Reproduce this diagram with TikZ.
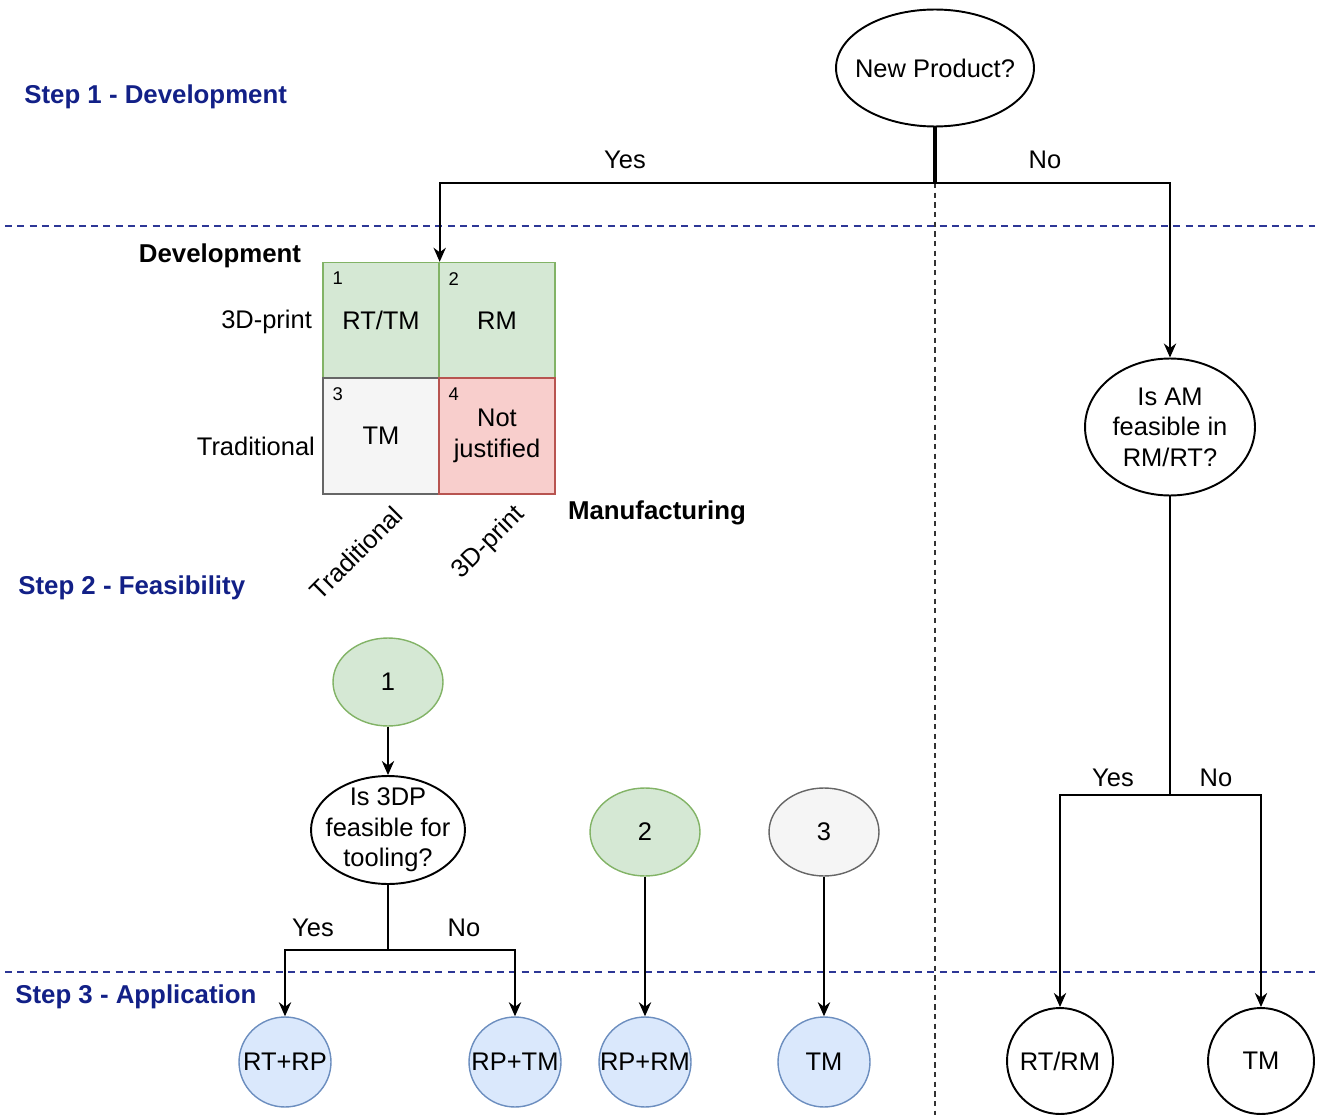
\documentclass[tikz,border=0pt]{standalone}
\usepackage{fontspec}
\setmainfont{Liberation Sans}
\usetikzlibrary{arrows.meta,positioning,calc,shapes.geometric}
\definecolor{stepblue}{RGB}{18,32,135}
\definecolor{bandblue}{RGB}{45,55,150}
\definecolor{greenfill}{HTML}{D5E8D4}
\definecolor{greenline}{HTML}{82B366}
\definecolor{greyfill}{HTML}{F5F5F5}
\definecolor{greyline}{HTML}{666666}
\definecolor{redfill}{HTML}{F8CECC}
\definecolor{redline}{HTML}{B85450}
\definecolor{bluefill}{HTML}{DAE8FC}
\definecolor{blueline}{HTML}{6C8EBF}
\tikzset{
  base/.style    ={font=\fontsize{14.5}{17.3}\selectfont},
  dec/.style     ={ellipse,draw,line width=1.1pt,align=center,inner sep=-10pt},
  green/.style   ={ellipse,draw=greenline,fill=greenfill,line width=0.8pt,inner sep=-10pt,
                   minimum width=2.2cm,minimum height=1.76cm},
  grey/.style    ={ellipse,draw=greyline,fill=greyfill,line width=0.8pt,inner sep=-10pt,
                   minimum width=2.2cm,minimum height=1.76cm},
  result/.style  ={ellipse,draw=blueline,fill=bluefill,line width=0.8pt,inner sep=-10pt,
                   minimum width=1.84cm,minimum height=1.8cm},
  final/.style   ={ellipse,draw,line width=1.1pt,inner sep=-10pt,
                   minimum width=2.12cm,minimum height=2.12cm},
  cell/.style    ={rectangle,line width=0.8pt,minimum size=2.32cm,align=center,inner sep=0pt},
  num/.style     ={font=\fontsize{10.5}{12}\selectfont,inner sep=0pt},
  steplbl/.style ={anchor=west,inner sep=0pt,text=stepblue,font=\fontsize{14.7}{17}\selectfont\bfseries},
  head/.style    ={font=\fontsize{14.7}{17}\selectfont\bfseries,inner sep=0pt},
  lbl/.style     ={inner sep=1pt},
  ar/.style      ={-{Stealth[length=8pt,width=7pt]},line width=1.1pt},
  ln/.style      ={line width=1.1pt},
  band/.style    ={draw=bandblue,line width=0.9pt,dash pattern=on 4pt off 3pt},
  split/.style   ={draw=black!80,line width=0.6pt,dash pattern=on 3pt off 2.5pt},
}
\begin{document}
\begin{tikzpicture}[x=0.02cm,y=-0.02cm,base]
  \useasboundingbox (0,0) rectangle (1319,1115);
  % step bands
  \coordinate (band1w) at (5,226);
  \coordinate (band1e) at (1315,226);
  \coordinate (band2w) at (5,972);
  \coordinate (band2e) at (1315,972);
  \draw[band] (band1w) -- (band1e);
  \draw[band] (band2w) -- (band2e);
  \node[steplbl] (step1) at (24,97) {Step 1 - Development};
  \node[steplbl] (step2) at (18,588) {Step 2 - Feasibility};
  \node[steplbl] (step3) at (15,997) {Step 3 - Application};

  % step 1
  \node[dec,minimum width=3.96cm,minimum height=2.34cm] (newp) at (935,68) {New Product?};
  \coordinate (sp1) at (935,183);
  \coordinate (divend) at (935,1115);
  \draw[split] (sp1) -- (divend);
  \draw[line width=1.8pt] (newp) -- (sp1);
  \node[lbl] (yes1) at (625,160) {Yes};
  \node[lbl] (no1) at (1045,160) {No};

  % development / manufacturing matrix
  \node[cell,draw=greenline,fill=greenfill] (c1) at (381,320.5) {RT/TM};
  \node[cell,draw=greenline,fill=greenfill] (c2) at (497,320.5) {RM};
  \node[cell,draw=greyline,fill=greyfill] (c3) at (381,436) {TM};
  \node[cell,draw=redline,fill=redfill] (c4) at (497,436) {Not\\justified};
  \node[num,below right=0.2cm and 0.2cm of c1.north west] (n1) {1};
  \node[num,below right=0.2cm and 0.2cm of c2.north west] (n2) {2};
  \node[num,below right=0.2cm and 0.2cm of c3.north west] (n3) {3};
  \node[num,below right=0.2cm and 0.2cm of c4.north west] (n4) {4};
  \node[head] (devl) at (220,256) {Development};
  \node[head] (manl) at (657,513) {Manufacturing};
  \node[lbl,anchor=east] (row1) at (314,322) {3D-print};
  \node[lbl,anchor=east] (row2) at (317,446) {Traditional};
  \node[lbl,rotate=45] (col1) at (356,553) {Traditional};
  \node[lbl,rotate=45] (col2) at (489,543) {3D-print};
  \draw[ar] (sp1) -| (c1.north east);

  % not new
  \node[dec,minimum width=3.4cm,minimum height=2.74cm] (isam) at (1170,427) {Is AM\\feasible in\\RM/RT?};
  \draw[ar] (sp1) -| (isam);
  \coordinate (sp2) at (1170,795);
  \draw[ln] (isam) -- (sp2);
  \node[lbl] (yes2) at (1113,778) {Yes};
  \node[lbl] (no2) at (1216,778) {No};
  \node[final] (rtrm) at (1060,1061) {RT/RM};
  \node[final] (tm2) at (1261,1061) {TM};
  \draw[ar] (sp2) -| (rtrm);
  \draw[ar] (sp2) -| (tm2);

  % step 2
  \node[green] (one) at (388,682) {1};
  \node[dec,minimum width=3.08cm,minimum height=2.16cm] (is3dp) at (388,830) {Is 3DP\\feasible for\\tooling?};
  \node[green] (two) at (645,832) {2};
  \node[grey] (three) at (824,832) {3};
  \draw[ar] (one) -- (is3dp);
  \coordinate (sp3) at (388,950);
  \draw[ln] (is3dp) -- (sp3);
  \node[lbl] (yes3) at (313,928) {Yes};
  \node[lbl] (no3) at (464,928) {No};

  % step 3
  \node[result] (rtrp) at (285,1062) {RT+RP};
  \node[result] (rptm) at (515,1062) {RP+TM};
  \node[result] (rprm) at (645,1062) {RP+RM};
  \node[result] (tm1) at (824,1062) {TM};
  \draw[ar] (sp3) -| (rtrp);
  \draw[ar] (sp3) -| (rptm);
  \draw[ar] (two) -- (rprm);
  \draw[ar] (three) -- (tm1);
\end{tikzpicture}
\end{document}
